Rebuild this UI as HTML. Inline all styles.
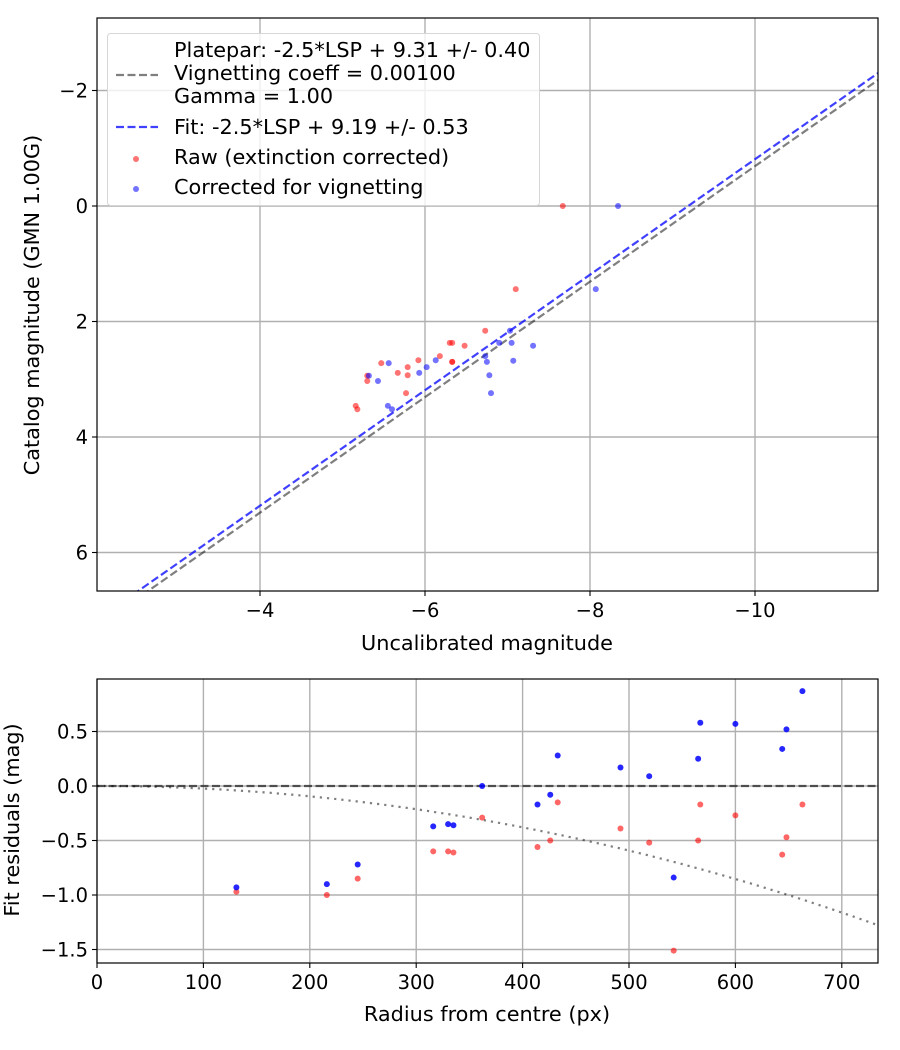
<!DOCTYPE html>
<html><head><meta charset="utf-8"><style>
body{margin:0;background:#fff}
svg{display:block;font-family:"DejaVu Sans","Liberation Sans",sans-serif}
</style></head><body>
<svg id="chart" width="900" height="1050" viewBox="0 0 900 1050"></svg>
<script>
// ---- top panel data ----
const rawX = [-7.67,-7.10,-6.73,-6.30,-6.33,-6.48,-5.47,-5.92,-6.18,-6.33,-6.33,-5.67,-5.79,-5.79,-5.30,-5.30,-5.77,-5.16,-5.18];
const rawY = [0.00,1.44,2.16,2.37,2.37,2.42,2.72,2.67,2.60,2.70,2.70,2.89,2.79,2.93,2.94,3.03,3.24,3.46,3.52];
const corX = [-5.56,-5.32,-5.43,-5.93,-6.02,-6.13,-6.73,-6.75,-6.78,-6.80,-6.90,-7.03,-7.05,-7.07,-7.31,-5.55,-5.60,-8.07,-8.34];
const corY = [2.72,2.94,3.03,2.89,2.79,2.67,2.60,2.70,2.93,3.24,2.37,2.16,2.37,2.68,2.42,3.46,3.52,1.44,0.00];
const platepar = [1, 9.31];
const fitLine = [1, 9.19];
const topXTicks = [-4,-6,-8,-10];
const topYTicks = [-2,0,2,4,6];
// ---- bottom panel data ----
const radius = [131,216,245,316,330,335,362,414,426,433,492,519,542,565,567,600,644,648,663];
const resRaw = [-0.97,-1.00,-0.85,-0.60,-0.60,-0.61,-0.29,-0.56,-0.50,-0.15,-0.39,-0.52,-1.51,-0.50,-0.17,-0.27,-0.63,-0.47,-0.17];
const resCor = [-0.93,-0.90,-0.72,-0.37,-0.35,-0.36,0.00,-0.17,-0.08,0.28,0.17,0.09,-0.84,0.25,0.58,0.57,0.34,0.52,0.87];
const botXTicks = [0,100,200,300,400,500,600,700];
const botYTicks = [0.5,0.0,-0.5,-1.0,-1.5];
const vignK = 2.37e-6;

const NS="http://www.w3.org/2000/svg";
const svg=document.getElementById('chart');
function mk(tag,attrs,parent){const e=document.createElementNS(NS,tag);for(const k in attrs)e.setAttribute(k,attrs[k]);(parent||svg).appendChild(e);return e;}
function txt(s,attrs,parent){const e=mk('text',attrs,parent);e.textContent=s;return e;}
const TF=19.5, LF=20.8, AF=20.8;

const T={l:97,r:878,t:18,b:591};
const tx=v=>260+(-4-v)*82.5;
const ty=v=>206+v*57.75;
const B={l:97,r:878,t:679,b:963};
const bx=v=>97+v*1.064;
const by=v=>786-v*109;

const gTop=mk('g',{});


const cp1=mk('clipPath',{id:'c1'});mk('rect',{x:T.l,y:T.t,width:T.r-T.l,height:T.b-T.t},cp1);
const cp2=mk('clipPath',{id:'c2'});mk('rect',{x:B.l,y:B.t,width:B.r-B.l,height:B.b-B.t},cp2);

topXTicks.forEach(v=>{const x=tx(v);
 const g=mk('line',{x1:x,x2:x,y1:T.t,y2:T.b,stroke:'#b0b0b0','stroke-width':1.4},gTop);
 
 mk('line',{x1:x,x2:x,y1:T.b,y2:T.b+5,stroke:'#000','stroke-width':1.1},gTop);
 const t=txt('\u2212'+Math.abs(v),{x:x,y:T.b+26,'font-size':TF,'text-anchor':'middle'},gTop);
 });
topYTicks.forEach(v=>{const y=ty(v);
 const g=mk('line',{x1:T.l,x2:T.r,y1:y,y2:y,stroke:'#b0b0b0','stroke-width':1.4},gTop);
 
 mk('line',{x1:T.l-5,x2:T.l,y1:y,y2:y,stroke:'#000','stroke-width':1.1},gTop);
 const t=txt((v<0?'\u2212':'')+Math.abs(v),{x:T.l-9,y:y+7,'font-size':TF,'text-anchor':'end'},gTop);
 });

const cTop=mk('g',{'clip-path':'url(#c1)'},gTop);
function fitL(p,color,name){const x1=-2,x2=-11.6;
 const l=mk('line',{x1:tx(x1),y1:ty(p[0]*x1+p[1]),x2:tx(x2),y2:ty(p[0]*x2+p[1]),stroke:color,'stroke-width':2.2,'stroke-dasharray':'8,3.5'},cTop);
 }
fitL(platepar,'rgba(0,0,0,0.5)','platepar-line');
fitL(fitLine,'rgba(0,0,255,0.75)','fit-line');
rawX.forEach((v,i)=>{const c=mk('circle',{cx:tx(v),cy:ty(rawY[i]),r:3,fill:'rgba(255,0,0,0.55)'},cTop);
 });
corX.forEach((v,i)=>{const c=mk('circle',{cx:tx(v),cy:ty(corY[i]),r:3,fill:'rgba(0,0,255,0.55)'},cTop);
 });

const leg=mk('g',{},gTop);

mk('rect',{x:107.5,y:33.5,width:432,height:172,rx:3,fill:'rgba(255,255,255,0.8)',stroke:'#d6d6d6','stroke-width':1},leg);
mk('line',{x1:116,x2:158,y1:75,y2:75,stroke:'rgba(0,0,0,0.5)','stroke-width':2.2,'stroke-dasharray':'8,3.5'},leg);
mk('line',{x1:116,x2:158,y1:127,y2:127,stroke:'rgba(0,0,255,0.75)','stroke-width':2.2,'stroke-dasharray':'8,3.5'},leg);
mk('circle',{cx:136,cy:159,r:3,fill:'rgba(255,0,0,0.55)'},leg);
mk('circle',{cx:136,cy:189,r:3,fill:'rgba(0,0,255,0.55)'},leg);
[['Platepar: -2.5*LSP + 9.31 +/- 0.40',57],['Vignetting coeff = 0.00100',80],['Gamma = 1.00',103],['Fit: -2.5*LSP + 9.19 +/- 0.53',134],['Raw (extinction corrected)',164],['Corrected for vignetting',194]].forEach(a=>{
 const t=txt(a[0],{x:174,y:a[1],'font-size':LF},leg);
 });

mk('rect',{x:T.l,y:T.t,width:T.r-T.l,height:T.b-T.t,fill:'none',stroke:'#000','stroke-width':1.2},gTop);
let t1=txt('Uncalibrated magnitude',{x:487,y:650,'font-size':AF,'text-anchor':'middle'},gTop);

let t2=txt('Catalog magnitude (GMN 1.00G)',{x:0,y:0,'font-size':AF,'text-anchor':'middle',transform:'translate(39,305) rotate(-90)'},gTop);


const gBot=mk('g',{});


botXTicks.forEach(v=>{const x=bx(v);
 const g=mk('line',{x1:x,x2:x,y1:B.t,y2:B.b,stroke:'#b0b0b0','stroke-width':1.4},gBot);
 
 mk('line',{x1:x,x2:x,y1:B.b,y2:B.b+5,stroke:'#000','stroke-width':1.1},gBot);
 const t=txt(String(v),{x:x,y:B.b+26,'font-size':TF,'text-anchor':'middle'},gBot);
 });
botYTicks.forEach(v=>{const y=by(v);
 const g=mk('line',{x1:B.l,x2:B.r,y1:y,y2:y,stroke:'#b0b0b0','stroke-width':1.4},gBot);
 
 mk('line',{x1:B.l-5,x2:B.l,y1:y,y2:y,stroke:'#000','stroke-width':1.1},gBot);
 const t=txt((v<0?'\u2212':'')+Math.abs(v).toFixed(1),{x:B.l-9,y:y+7,'font-size':TF,'text-anchor':'end'},gBot);
 });
const cBot=mk('g',{'clip-path':'url(#c2)'},gBot);
let zl=mk('line',{x1:B.l,x2:B.r,y1:by(0),y2:by(0),stroke:'rgba(0,0,0,0.6)','stroke-width':2.2,'stroke-dasharray':'8,3.5'},cBot);

let pts=[];for(let r=0;r<=740;r+=5)pts.push(bx(r).toFixed(1)+','+by(-vignK*r*r).toFixed(1));
let vc=mk('polyline',{points:pts.join(' '),fill:'none',stroke:'rgba(0,0,0,0.5)','stroke-width':2.2,'stroke-dasharray':'2.2,5'},cBot);

radius.forEach((v,i)=>{const c=mk('circle',{cx:bx(v),cy:by(resRaw[i]),r:3,fill:'rgba(255,0,0,0.6)'},cBot);
 });
radius.forEach((v,i)=>{const c=mk('circle',{cx:bx(v),cy:by(resCor[i]),r:3,fill:'rgba(0,0,255,0.85)'},cBot);
 });
mk('rect',{x:B.l,y:B.t,width:B.r-B.l,height:B.b-B.t,fill:'none',stroke:'#000','stroke-width':1.2},gBot);
let t3=txt('Radius from centre (px)',{x:487,y:1021,'font-size':AF,'text-anchor':'middle'},gBot);

let t4=txt('Fit residuals (mag)',{x:0,y:0,'font-size':AF,'text-anchor':'middle',transform:'translate(19,820) rotate(-90)'},gBot);

</script>
</body></html>
